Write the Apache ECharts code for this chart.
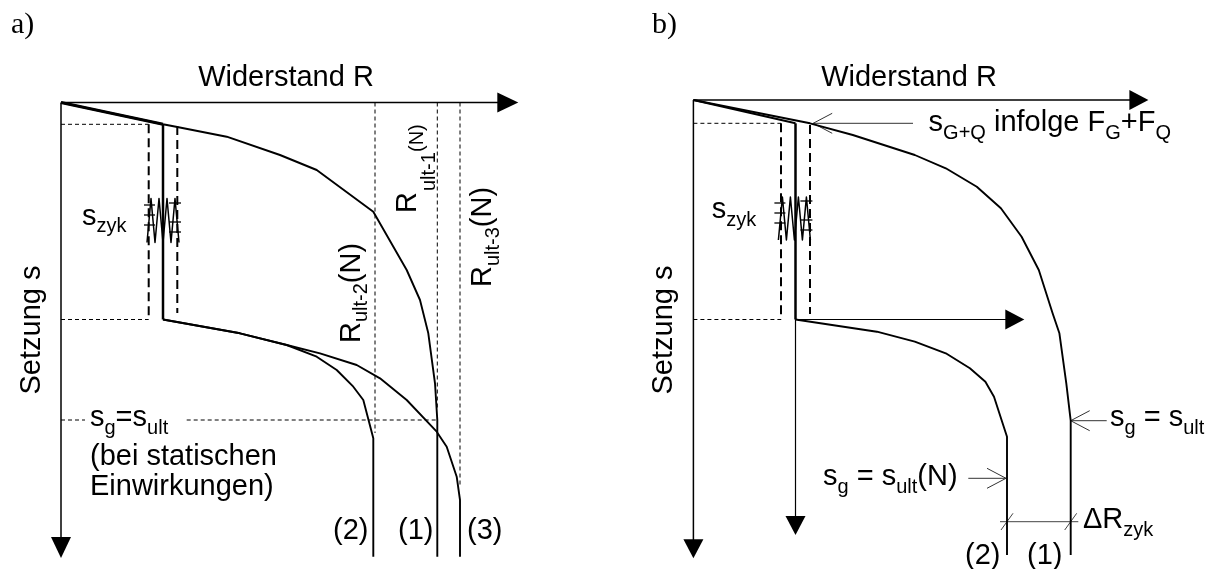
<!DOCTYPE html>
<html><head><meta charset="utf-8">
<script src="https://cdn.jsdelivr.net/npm/echarts@6/dist/echarts.min.js"></script>
<style>html,body{margin:0;padding:0;background:#fff}#c{width:1209px;height:569px}</style>
</head><body><div id="c"></div>
<script>
// ---- data: [R, s] read from the drawing, measured from each panel's origin (R to the right, s downwards)
// panel a)
const curveA1 = [[0,0],[102,21.8],[116.3,24.5],[165.7,34.2],[219,52.5],[255.7,67.5],[312.3,109.2],[345.7,167.5],[359,197.5],[367.3,230.8],[374,280.8],[376.3,317.5],[376.3,454.2]];
const curveA1start = [[0,0],[102,21.8]];
const curveA2 = [[102,217],[179,230.8],[225.7,242.5],[255.7,254.2],[275.7,267.5],[292.3,284.2],[302.3,297.5],[312.3,335.8],[312.3,454.2]];
const curveA3 = [[102,217],[179,230.8],[225.7,242.5],[259,250.8],[295.7,262.5],[319,275.8],[345.7,297.5],[375.7,329.2],[385.7,344.2],[395.7,374.2],[399,397.5],[399,454.2]];
const springA = [[86,140],[90,96],[94,140],[98,96],[102,140],[106,96],[110,140],[114,96],[118,140]];
const guideA = [[314,0,314,330.5],[376.3,0,376.3,308],[399,0,399,384],[0,21.8,87.7,21.8],[0,217,87.7,217],[0,317.5,24,317.5],[125.7,317.5,376.3,317.5]];
const bandDashA = [[87.7,21.8,87.7,217],[116.3,23.5,116.3,210.5]];
const bandSolidA = [[102,21.8,102,217]];
const springTickA = [[83,102.5,94,102.5],[83,112.5,94,112.5],[83,122.5,94,122.5],[108,100.5,120,100.5],[108,119.5,120,119.5],[108,129.5,120,129.5]];
const axisArrowA = [[0,0,457.3,0],[0,0,0,455.5]];
// panel b)
const curveB1 = [[0,0],[116.6,23.3],[159.4,35],[221.4,55],[252.4,68.3],[283.4,86.7],[307.5,108.3],[328.2,136.7],[345.4,170],[359.2,213.3],[366,233.3],[372.9,283.3],[377.3,320.7],[377.3,455]];
const curveB1start = [[0,0],[102.1,23.3]];
const curveB2 = [[102.1,219.5],[183.5,231.7],[221.4,241.7],[252.4,253.3],[276.5,268.3],[292,281.7],[300.6,296.7],[313.6,336.7],[313.6,455]];
const springB = [[85,140],[89,97],[93,140],[97,97],[101,140],[105,97],[109,140],[113,97],[117,140]];
const guideB = [[0,23.3,87.6,23.3],[0,219.5,87.6,219.5]];
const bandDashB = [[87.6,23.3,87.6,219.5],[116.6,25,116.6,214]];
const bandSolidB = [[102.1,23.3,102.1,219.5]];
const springTickB = [[81,103,92,103],[81,113,92,113],[81,123,92,123],[107,101,119,101],[107,120,119,120],[107,130,119,130]];
const axisArrowB = [[0,0,455,0],[0,0,0,458.3]];
const shiftArrowB = [[102.1,219.5,102.1,435],[102.1,219.5,330.9,219.5]];
const pointerB = [[219.6,23.3,119.8,23.3],[413.3,320.7,377.3,320.7],[274.9,378.3,312.6,378.3]];
const deltaB = [[306.6,421.7,384.9,421.7],[307.6,430,319.6,413.3],[371.3,430,383.3,413.3]];

// ---- rendering
const FONT = '"Liberation Sans", Arial, Helvetica, sans-serif';
const SERIF = '"Liberation Serif", "Times New Roman", serif';
const RICH = {
  m: {fontSize: 29, fontFamily: FONT, lineHeight: 40, fill: '#000'},
  b: {fontSize: 20, fontFamily: FONT, lineHeight: 20, padding: [20, 0, 0, 0], fill: '#000'}
};
const ROT = Math.PI / 2;
function txt(x, y, text, o) {
  o = o || {};
  return {type: 'text', x: x, y: y, rotation: o.rot || 0, z: 100, silent: true,
    style: {text: text, rich: RICH, fill: '#000', fontSize: o.size || 29, fontFamily: o.family || FONT,
      textAlign: o.align || 'left', textVerticalAlign: 'middle'}};
}
function lineSeries(data, gi, w) {
  return {type: 'line', xAxisIndex: gi, yAxisIndex: gi, data: data, showSymbol: false, symbol: 'none',
    clip: false, silent: true, animation: false, lineStyle: {color: '#000', width: w, join: 'round'}};
}
function segSeries(data, gi, w, dash, color) {
  return {type: 'custom', xAxisIndex: gi, yAxisIndex: gi, data: data, clip: false, silent: true, animation: false,
    renderItem: function (p, api) {
      const a = api.coord([api.value(0), api.value(1)]), b = api.coord([api.value(2), api.value(3)]);
      return {type: 'line', shape: {x1: a[0], y1: a[1], x2: b[0], y2: b[1]},
        style: {stroke: color || '#000', lineWidth: w, lineDash: dash || null, fill: null}};
    }};
}
function arrowSeries(data, gi, w, open, L, H, color) {
  return {type: 'custom', xAxisIndex: gi, yAxisIndex: gi, data: data, clip: false, silent: true, animation: false,
    renderItem: function (p, api) {
      const a = api.coord([api.value(0), api.value(1)]), b = api.coord([api.value(2), api.value(3)]);
      const dx = b[0] - a[0], dy = b[1] - a[1], len = Math.hypot(dx, dy), ux = dx / len, uy = dy / len;
      const nx = -uy, ny = ux, bx = b[0] - ux * L, by = b[1] - uy * L;
      const c = color || '#000';
      if (open) {
        return {type: 'group', children: [
          {type: 'line', shape: {x1: a[0], y1: a[1], x2: b[0], y2: b[1]}, style: {stroke: c, lineWidth: w}},
          {type: 'polyline', shape: {points: [[bx + nx * H, by + ny * H], [b[0], b[1]], [bx - nx * H, by - ny * H]]}, style: {stroke: c, lineWidth: w, fill: null}}
        ]};
      }
      return {type: 'group', children: [
        {type: 'line', shape: {x1: a[0], y1: a[1], x2: bx + ux, y2: by + uy}, style: {stroke: c, lineWidth: w}},
        {type: 'polygon', shape: {points: [[b[0], b[1]], [bx + nx * H, by + ny * H], [bx - nx * H, by - ny * H]]}, style: {fill: c}}
      ]};
    }};
}

const chart = echarts.init(document.getElementById('c'), null, {renderer: 'canvas'});
const ax = (gi) => ({type: 'value', gridIndex: gi, min: 0, max: 460, show: false});
const ay = (gi) => ({type: 'value', gridIndex: gi, min: 0, max: 460, inverse: true, show: false});
chart.setOption({
  backgroundColor: '#fff',
  animation: false,
  grid: [
    {left: 61, top: 102.5, width: 460, height: 460, show: false},
    {left: 693.4, top: 100, width: 460, height: 460, show: false}
  ],
  xAxis: [ax(0), ax(1)],
  yAxis: [ay(0), ay(1)],
  series: [
    // panel a
    segSeries(guideA, 0, 1, [4, 3]),
    segSeries(bandDashA, 0, 2, [9, 5]),
    segSeries(bandSolidA, 0, 2.5),
    segSeries(springTickA, 0, 1.3),
    lineSeries(springA, 0, 1.5),
    arrowSeries(axisArrowA, 0, 1.5, false, 21, 10),
    lineSeries(curveA1start, 0, 3),
    lineSeries(curveA1, 0, 1.9),
    lineSeries(curveA2, 0, 1.9),
    lineSeries(curveA3, 0, 1.9),
    // panel b
    segSeries(guideB, 1, 1, [4, 3]),
    segSeries(bandDashB, 1, 2, [9, 5]),
    segSeries(bandSolidB, 1, 2.5),
    segSeries(springTickB, 1, 1.3),
    lineSeries(springB, 1, 1.5),
    arrowSeries(axisArrowB, 1, 1.5, false, 19, 10),
    arrowSeries(shiftArrowB, 1, 1.2, false, 19, 10),
    arrowSeries(pointerB, 1, 1, true, 19, 10, '#333'),
    segSeries(deltaB, 1, 1, null, '#444'),
    lineSeries(curveB1start, 1, 1.9),
    lineSeries(curveB1, 1, 1.9),
    lineSeries(curveB2, 1, 1.9)
  ],
  graphic: [
    // panel a texts
    txt(11, 25, 'a)', {family: SERIF, size: 30}),
    txt(286, 78, 'Widerstand R', {align: 'center'}),
    txt(32, 330, 'Setzung s', {align: 'center', rot: ROT}),
    txt(82, 216.5, '{m|s}{b|zyk}'),
    txt(351.5, 343, '{m|R}{b|ult-2}{m|(N)}', {rot: ROT}),
    txt(408, 213, 'R', {rot: ROT}),
    txt(429, 191, 'ult-1', {rot: ROT, size: 20}),
    txt(417.5, 152, '(N)', {rot: ROT, size: 20}),
    txt(483, 287, '{m|R}{b|ult-3}{m|(N)}', {rot: ROT}),
    txt(90, 418, '{m|s}{b|g}{m|=s}{b|ult}'),
    txt(90, 457, '(bei statischen'),
    txt(90, 487, 'Einwirkungen)'),
    txt(333, 531, '(2)'),
    txt(398, 531, '(1)'),
    txt(467, 531, '(3)'),
    // panel b texts
    txt(652, 25, 'b)', {family: SERIF, size: 30}),
    txt(909, 78, 'Widerstand R', {align: 'center'}),
    txt(664, 330, 'Setzung s', {align: 'center', rot: ROT}),
    txt(711.7, 210, '{m|s}{b|zyk}'),
    txt(928.6, 123, '{m|s}{b|G+Q}{m| infolge F}{b|G}{m|+F}{b|Q}'),
    txt(1110, 418, '{m|s}{b|g}{m| = s}{b|ult}'),
    txt(823, 477, '{m|s}{b|g}{m| = s}{b|ult}{m|(N)}'),
    txt(1083, 520, '{m|ΔR}{b|zyk}'),
    txt(965, 556, '(2)'),
    txt(1027, 556, '(1)')
  ]
});
</script>
</body></html>
